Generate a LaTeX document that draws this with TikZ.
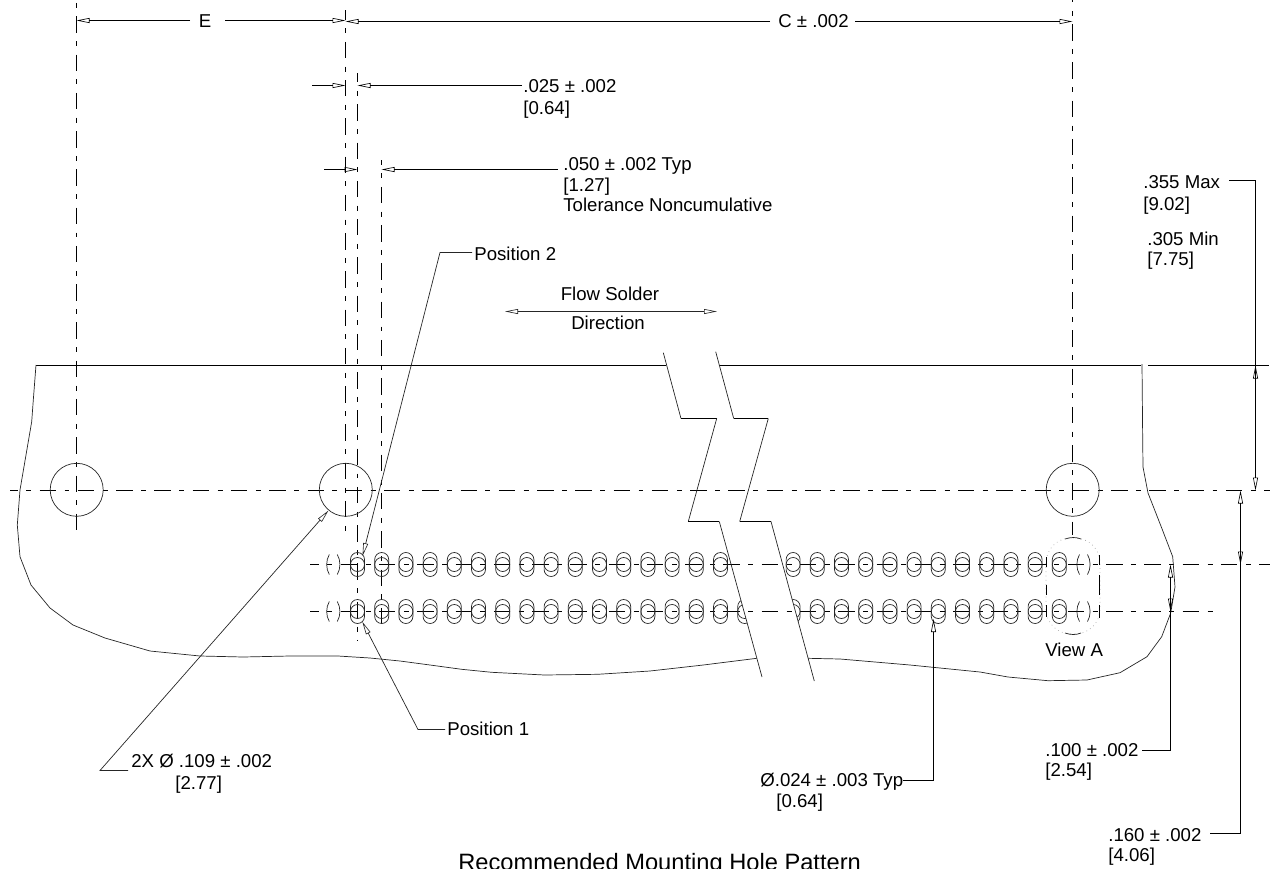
\documentclass[tikz,border=0pt]{standalone}
\usepackage{fontspec}
\setmainfont{Liberation Sans}
\usetikzlibrary{arrows.meta}
\tikzset{
  dimtip/.tip={Triangle[open,length=7.4pt,width=2.8pt,line width=.35pt]},
  dimline/.style={line width=.55pt,black},
  thinline/.style={line width=.4pt,black!85},
  centerline/.style={line width=.55pt,black,dash pattern=on 9.35pt off 4.8pt on 2.83pt off 4.8pt},
  labeltext/.style={anchor=base west,inner sep=0pt,font=\fontsize{10.6}{12}\selectfont},
}
\newcommand{\slothole}[2]{
  \draw[thinline] (#1-7,#2-5) arc (180:360:7) -- (#1+7,#2+5) arc (0:180:7) -- cycle;
  \draw[thinline] (#1,#2) circle (7);
}
\newcommand{\parenhole}[2]{
  \draw[thinline] (#1-4,#2-10) .. controls (#1-7.5,#2-4) and (#1-7.5,#2+4) .. (#1-4,#2+10);
  \draw[thinline] (#1+4,#2-10) .. controls (#1+7.5,#2-4) and (#1+7.5,#2+4) .. (#1+4,#2+10);
}
\begin{document}
\begin{tikzpicture}[x=0.02cm,y=-0.02cm]
\clip (0,0) rectangle (1272,869);

% center lines
\draw[centerline,dash phase=12.5pt] (76.5,0) -- (76.5,531);
\draw[centerline,dash phase=3.7pt] (345.5,10) -- (345.5,535);
\draw[centerline,dash phase=4pt] (357.5,73) -- (357.5,640);
\draw[centerline,dash phase=6.5pt] (381.5,160) -- (381.5,623);
\draw[centerline,dash phase=8pt] (1072.5,0) -- (1072.5,535);
\draw[centerline,dash phase=4.9pt] (10,490.5) -- (1270,490.5);
\draw[centerline,dash phase=4.25pt] (310,564.5) -- (1270,564.5);
\draw[centerline,dash phase=4.25pt] (310,611.5) -- (1217,611.5);

% mounting holes
\draw[thinline] (76.7,489.8) circle (26.5);
\draw[thinline] (345.8,489.8) circle (26.5);
\draw[thinline] (1072.7,489.8) circle (26.5);

% board outline
\draw[dimline] (36,365.5) -- (666,365.5);
\draw[dimline] (719,365.5) -- (1141,365.5);
\draw[dimline] (1148,365.5) -- (1269,365.5);
\draw[thinline] (36,365) -- (33.3,400) -- (31.7,421.7) -- (20,490) -- (17.3,525) -- (20,556.7)
  -- (31,585) -- (50,608) -- (73,625) -- (105,638) -- (150,651) -- (200,656) -- (243,657)
  -- (290,656) -- (338,656) -- (370,658) -- (400,661) -- (430,665) -- (461.7,669.3)
  -- (491.7,672.3) -- (544.3,675) -- (597.7,674.3) -- (650,671) -- (703.3,665) -- (756.7,658.3);
\draw[thinline] (808,658.3) -- (840,659) -- (910,665) -- (980,672) -- (1008,677) -- (1048,680.7)
  -- (1087,680) -- (1120,672.7) -- (1147,656.7) -- (1161.7,636.7) -- (1170.7,613) -- (1175,587)
  -- (1172.7,556.7) -- (1161.7,528) -- (1148,493) -- (1143,467) -- (1142.7,440) -- (1142,364);

% break lines
\draw[thinline] (663.3,352.7) -- (681,418.5);
\draw[dimline] (681,418.5) -- (716.7,418.5);
\draw[thinline] (716.7,418.5) -- (688.3,521.5);
\draw[dimline] (688.3,521.5) -- (719.3,521.5);
\draw[thinline] (719.3,521.5) -- (762,677);
\draw[thinline] (715.7,351.7) -- (733.7,418.5);
\draw[dimline] (733.7,418.5) -- (768.3,418.5);
\draw[thinline] (768.3,418.5) -- (739.7,521.5);
\draw[dimline] (739.7,521.5) -- (771,521.5);
\draw[thinline] (771,521.5) -- (814.3,681);

% pin rows
\foreach \i in {1,...,16,20,21,...,30} {
  \pgfmathsetmacro{\px}{333.3+24.2*\i}
  \slothole{\px}{564.5}
  \slothole{\px}{611.5}
}
\slothole{793.1}{564.5}
\begin{scope}
\clip (720,590) -- (738.2,590) -- (749.1,630) -- (720,630) -- cycle;
\slothole{744.7}{611.5}
\end{scope}
\begin{scope}
\clip (789.7,590) -- (820,590) -- (820,630) -- (800.5,630) -- cycle;
\slothole{793.1}{611.5}
\end{scope}
\parenhole{333.3}{564.5}
\parenhole{333.3}{611.5}
\parenhole{1083.5}{564.5}
\parenhole{1083.5}{611.5}

% view A
\draw[line width=.4pt,black!35,dotted,rounded corners=.5cm] (1046,538) rectangle (1100,634);
\draw[thinline] (1065,539) .. controls (1071,537) and (1076,537) .. (1081,539);
\draw[thinline] (1065,633) .. controls (1071,635) and (1076,635) .. (1081,633);
\foreach \ya/\yb in {557/567,585/595,605/617} \draw[dimline] (1046.5,\ya) -- (1046.5,\yb);
\foreach \ya/\yb in {555/565,575/595,605/618} \draw[dimline] (1099.5,\ya) -- (1099.5,\yb);
\node[labeltext] (viewa) at (1045,656) {View A};

% top dimensions
\node[labeltext,anchor=base] (dime) at (205,27) {E};
\node[labeltext] (dimc) at (778,27) {C ± .002};
\draw[dimline,-dimtip] (190,20.5) -- (76.5,20.5);
\draw[dimline,-dimtip] (225,20.5) -- (345.5,20.5);
\draw[dimline,-dimtip] (770,21.5) -- (345.5,21.5);
\draw[dimline,-dimtip] (855,21.5) -- (1072.5,21.5);

\node[labeltext] (pitcha) at (523,92.3) {.025 ± .002};
\node[labeltext] (pitchamm) at (523,114) {[0.64]};
\draw[dimline,-dimtip] (312,85.5) -- (345.5,85.5);
\draw[dimline,-dimtip] (522,85.5) -- (357.5,85.5);

\node[labeltext] (pitchb) at (563,170) {.050 ± .002 Typ};
\node[labeltext] (pitchbmm) at (563,191) {[1.27]};
\node[labeltext] (pitchbnote) at (563,211) {Tolerance Noncumulative};
\draw[dimline,-dimtip] (324,169.5) -- (357.5,169.5);
\draw[dimline,-dimtip] (558,169.5) -- (381.5,169.5);

% leaders
\node[labeltext] (posb) at (474,260) {Position 2};
\draw[thinline,-dimtip] (472,252.5) -- (440,252.5) -- (362.5,556);
\node[labeltext] (posa) at (447,735) {Position 1};
\draw[thinline,-dimtip] (445,729.5) -- (418,729.5) -- (362.3,621.7);
\node[labeltext] (bigdia) at (131,767) {2X Ø .109 ± .002};
\node[labeltext] (bigdiamm) at (175,789) {[2.77]};
\draw[thinline,-dimtip] (128,770.5) -- (100,770.5) -- (328.5,510.5);
\node[labeltext,anchor=base] (flowa) at (610,300) {Flow Solder};
\node[labeltext,anchor=base] (flowb) at (608,329) {Direction};
\draw[thinline,dimtip-dimtip] (505,311.5) -- (717,311.5);
\node[labeltext] (smalldia) at (760,786.5) {Ø.024 ± .003 Typ};
\node[labeltext] (smalldiamm) at (776,807) {[0.64]};
\draw[dimline,-dimtip] (903,780.5) -- (933.5,780.5) -- (933.5,619);

% right dimensions
\node[labeltext] (maxh) at (1143,188) {.355 Max};
\node[labeltext] (maxhmm) at (1143,210) {[9.02]};
\node[labeltext] (minh) at (1147,245) {.305 Min};
\node[labeltext] (minhmm) at (1147,265.5) {[7.75]};
\draw[dimline,-dimtip] (1229,180.5) -- (1255.5,180.5) -- (1255.5,490.5);
\draw[dimline,-dimtip] (1255.5,378) -- (1255.5,365.5);

\node[labeltext] (rowgap) at (1045,756) {.100 ± .002};
\node[labeltext] (rowgapmm) at (1045,776) {[2.54]};
\draw[dimline,-dimtip] (1142,750.5) -- (1170.5,750.5) -- (1170.5,564.5);
\draw[dimline,-dimtip] (1170.5,598) -- (1170.5,611.5);

\node[labeltext] (rowoff) at (1108,841) {.160 ± .002};
\node[labeltext] (rowoffmm) at (1108,861) {[4.06]};
\draw[dimline,-dimtip] (1210,833.5) -- (1240.5,833.5) -- (1240.5,490.5);
\draw[dimline,-dimtip] (1240.5,552) -- (1240.5,564.5);

\node[labeltext,font=\fontsize{13.47}{15}\selectfont] (title) at (458,870) {Recommended Mounting Hole Pattern};
\end{tikzpicture}
\end{document}
